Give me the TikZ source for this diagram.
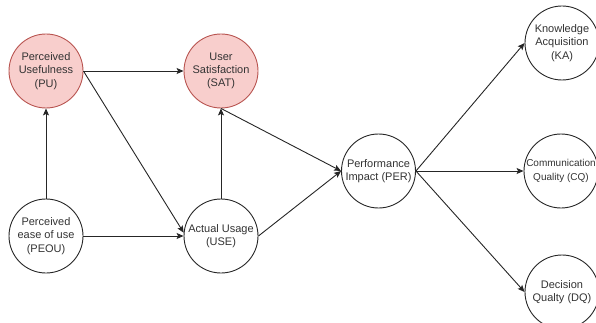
\documentclass[tikz,border=0pt]{standalone}
\usepackage{fontspec}
\setmainfont{Liberation Sans}
\usetikzlibrary{arrows.meta}
\definecolor{pinkfill}{HTML}{F8CECC}
\definecolor{pinkline}{HTML}{B85450}
\definecolor{txt}{HTML}{333333}
\begin{document}
\begin{tikzpicture}[x=1pt,y=-1pt,
  var/.style={circle,draw=black!85,line width=0.9pt,fill=white,minimum size=74pt,inner sep=0pt,
    align=center,text=txt,font=\fontsize{11}{13.3}\selectfont},
  pinkvar/.style={var,fill=pinkfill,draw=pinkline},
  conn/.style={draw=black!85,line width=0.9pt,-{Stealth[length=7pt,width=6pt,inset=1.5pt]}}]
\useasboundingbox (0,0) rectangle (596,323);
\node[pinkvar] (PU) at (46,71) {Perceived\\Usefulness\\(PU)};
\node[pinkvar] (SAT) at (221,71) {User\\Satisfaction\\(SAT)};
\node[var] (PEOU) at (46,236) {Perceived\\ease of use\\(PEOU)};
\node[var] (USE) at (221,236) {Actual Usage\\(USE)};
\node[var] (PER) at (378.5,171) {Performance\\Impact (PER)};
\node[var] (KA) at (562,43) {Knowledge\\Acquisition\\(KA)};
\node[var,font=\fontsize{10}{13.3}\selectfont] (CQ) at (561,171) {Communication\\Quality (CQ)};
\node[var] (DQ) at (562,292) {Decision\\Qualty (DQ)};
\draw[conn] (PEOU) -- (PU);
\draw[conn] (PEOU) -- (USE);
\draw[conn] (PU.east) -- (SAT.west);
\draw[conn] (PU.east) -- (USE.175);
\draw[conn] (USE) -- (SAT);
\draw[conn] (SAT.south) -- (PER.west);
\draw[conn] (USE.east) -- (PER.west);
\draw[conn] (PER.east) -- (KA.west);
\draw[conn] (PER.east) -- (CQ.west);
\draw[conn] (PER.east) -- (DQ.west);
\end{tikzpicture}
\end{document}
